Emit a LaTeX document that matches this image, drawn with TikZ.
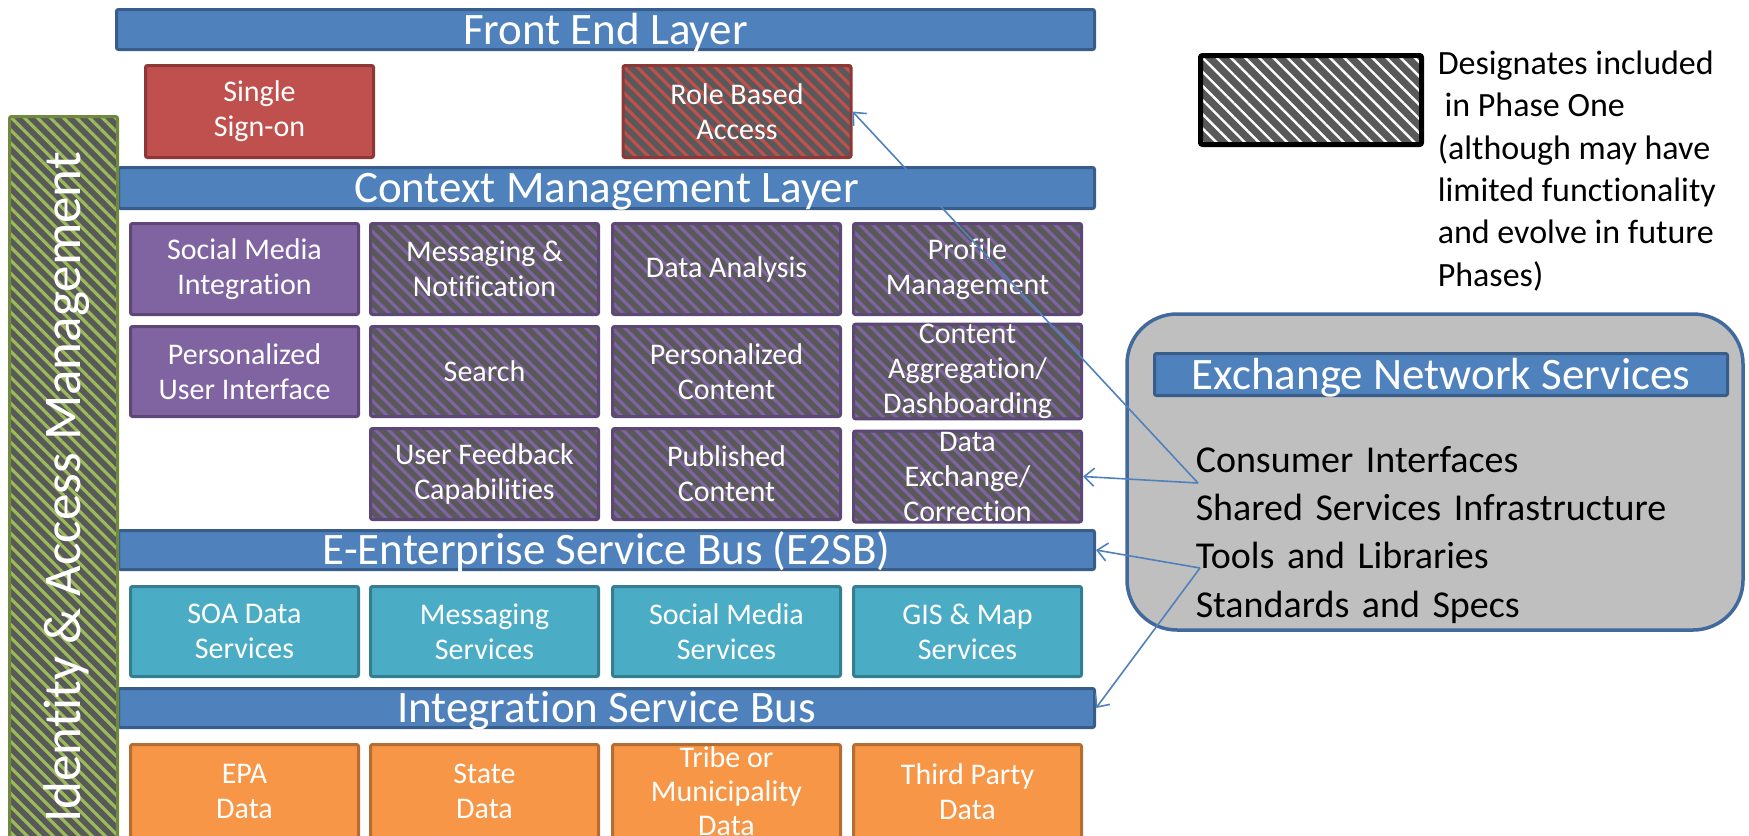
\documentclass[tikz,border=0pt]{standalone}
\usepackage{fontspec}
\setmainfont{Carlito}[Ligatures=CommonOff]
\usetikzlibrary{arrows.meta,patterns.meta}

\definecolor{barblue}{RGB}{79,129,189}
\definecolor{barline}{RGB}{56,93,138}
\definecolor{ssored}{RGB}{192,80,77}
\definecolor{ssoline}{RGB}{140,56,54}
\definecolor{ctxpurple}{RGB}{128,100,162}
\definecolor{ctxline}{RGB}{92,71,118}
\definecolor{esbteal}{RGB}{75,172,198}
\definecolor{esbline}{RGB}{53,125,145}
\definecolor{srcorange}{RGB}{247,150,70}
\definecolor{srcline}{RGB}{182,109,49}
\definecolor{iamgreen}{RGB}{155,187,89}
\definecolor{iamline}{RGB}{113,137,63}
\definecolor{hatchgrey}{RGB}{89,89,89}
\definecolor{boxgrey}{RGB}{191,191,191}
\definecolor{nsline}{RGB}{65,105,155}
\definecolor{linkblue}{RGB}{79,129,189}

\tikzset{every picture/.style={line width=0.75pt}}
\tikzset{
	layerbar/.style={draw=barline, fill=barblue, line width=1.5pt, rounded corners=1pt, text=white, inner sep=0pt, text height=14.5pt, text depth=0pt, font=\fontsize{22.5}{26}\selectfont},
	box/.style={line width=1.5pt, rounded corners=1pt, text=white, align=center, inner sep=0pt, minimum width=114pt, minimum height=45.5pt, font=\fontsize{15}{17.5}\selectfont},
	hatched/.style={preaction={fill=hatchgrey}, pattern={Lines[angle=-45,distance=4.6pt,line width=1.6pt]}, pattern color=#1},
	redbox/.style={box, draw=ssoline, fill=ssored},
	redhatch/.style={box, draw=ssoline, hatched=ssored},
	ctxbox/.style={box, draw=ctxline, fill=ctxpurple},
	ctxhatch/.style={box, draw=ctxline, hatched=ctxpurple},
	esbbox/.style={box, draw=esbline, fill=esbteal},
	srcbox/.style={box, draw=srcline, fill=srcorange},
	sidetext/.style={text=black, inner sep=0pt, align=left, font=\fontsize{17}{21.2}\selectfont},
	listtext/.style={text=black, inner sep=0pt, font={\fontsize{19}{24}\selectfont\spaceskip=0.33em\relax}},
	link/.style={draw=linkblue, line width=0.8pt, -{Straight Barb[length=5pt,width=9pt]}}
}

\begin{document}
\begin{tikzpicture}[x=0.5pt,y=0.5pt,yscale=-1,xscale=1]
	\useasboundingbox (0,0) rectangle (1749,835);
	
	%Layer bars
	\node[layerbar, minimum width=489pt, minimum height=20pt] (front) at (605.5,29.5) {Front End Layer};
	\node[layerbar, minimum width=488pt, minimum height=20.5pt] (ctx) at (606.5,188) {Context Management Layer};
	\node[layerbar, minimum width=488pt, minimum height=19.5pt] (e2sb) at (606.5,550) {E-Enterprise Service Bus (E2SB)};
	\node[layerbar, minimum width=488pt, minimum height=19.5pt] (isb) at (606.5,708) {Integration Service Bus};
	
	%Identity & Access Management
	\node[box, draw=iamline, hatched=iamgreen, rotate=90, minimum width=361pt, minimum height=54pt, text height=17.1pt, text depth=0pt, font=\fontsize{26.5}{30}\selectfont] (iam) at (63.5,477.5) {Identity \& Access Management\hspace*{10pt}};
	
	%Front end
	\node[redbox, minimum height=46pt] (sso) at (259.5,111.5) {Single\\Sign-on};
	\node[redhatch, minimum height=46pt] (rba) at (737,111.5) {Role Based\\Access};
	
	%Context management
	\node[ctxbox] (smint) at (244.5,269) {Social Media\\Integration};
	\node[ctxhatch] (msgnot) at (484.5,269) {Messaging \&\\Notification};
	\node[ctxhatch] (dana) at (726.5,269) {Data Analysis};
	\node[ctxhatch] (profmgmt) at (967.5,269) {Profile\\Management};
	\node[ctxbox, minimum height=45pt] (persui) at (244.5,371.5) {Personalized\\User Interface};
	\node[ctxhatch, minimum height=45pt] (search) at (484.5,371.5) {Search};
	\node[ctxhatch, minimum height=45pt] (perscont) at (726.5,371.5) {Personalized\\Content};
	\node[ctxhatch, minimum height=45pt] (contagg) at (967.5,371.5) {Content\\Aggregation/\\Dashboarding};
	\node[ctxhatch] (userfb) at (484.5,474) {User Feedback\\Capabilities};
	\node[ctxhatch] (pubcont) at (726.5,474) {Published\\Content};
	\node[ctxhatch] (dataexch) at (967.5,476.5) {Data\\Exchange/\\Correction};
	
	%Service bus
	\node[esbbox, minimum height=45pt] (soa) at (244.5,631.5) {SOA Data\\Services};
	\node[esbbox, minimum height=45pt] (msgsvc) at (484.5,631.5) {Messaging\\Services};
	\node[esbbox, minimum height=45pt] (smsvc) at (726.5,631.5) {Social Media\\Services};
	\node[esbbox, minimum height=45pt] (gis) at (967.5,631.5) {GIS \& Map\\Services};
	
	%Data sources
	\node[srcbox, minimum height=47pt] (epa) at (244.5,791.5) {EPA\\Data};
	\node[srcbox, minimum height=47pt] (state) at (484.5,791.5) {State\\Data};
	\node[srcbox, minimum height=47pt, font=\fontsize{15}{17}\selectfont] (tribe) at (726.5,791.5) {Tribe or\\Municipality\\Data};
	\node[srcbox, minimum height=47pt] (third) at (967.5,791.5) {Third Party\\Data};
	
	%Legend
	\node[draw=black, line width=2.5pt, rounded corners=1pt, preaction={fill=hatchgrey}, pattern={Lines[angle=-45,distance=5pt,line width=1.2pt]}, pattern color=white, minimum width=110.5pt, minimum height=44.5pt, inner sep=0pt] (legbox) at (1311,100) {};
	\node[sidetext, anchor=north west] (legtxt) at (1437,50) {Designates included\\\hspace*{0.2em}in Phase One\\(although may have\\limited functionality\\and evolve in future\\Phases)};
	
	%Exchange Network Services
	\node[draw=nsline, fill=boxgrey, line width=1.75pt, rounded corners=25pt, minimum width=308pt, minimum height=158pt, inner sep=0pt] (nsbox) at (1435,472) {};
	\node[layerbar, minimum width=286.5pt, minimum height=21pt] (nsbar) at (1441,374.5) {Exchange Network Services};
	\node[listtext, anchor=base west] (ci) at (1195,472) {Consumer Interfaces};
	\node[listtext, anchor=base west] (ssi) at (1195,520) {Shared Services Infrastructure};
	\node[listtext, anchor=base west] (tl) at (1195,568) {Tools and Libraries};
	\node[listtext, anchor=base west] (ss) at (1195,617) {Standards and Specs};
	
	%Connectors
	\coordinate (nsa) at (1198,483);
	\coordinate (nsb) at (1200,568);
	\draw[link] (nsa) -- (rba.east);
	\draw[link] (nsa) -- (dataexch.east);
	\draw[link] (nsb) -- (e2sb.east);
	\draw[link] (nsb) -- (isb.east);
	
\end{tikzpicture}
\end{document}
